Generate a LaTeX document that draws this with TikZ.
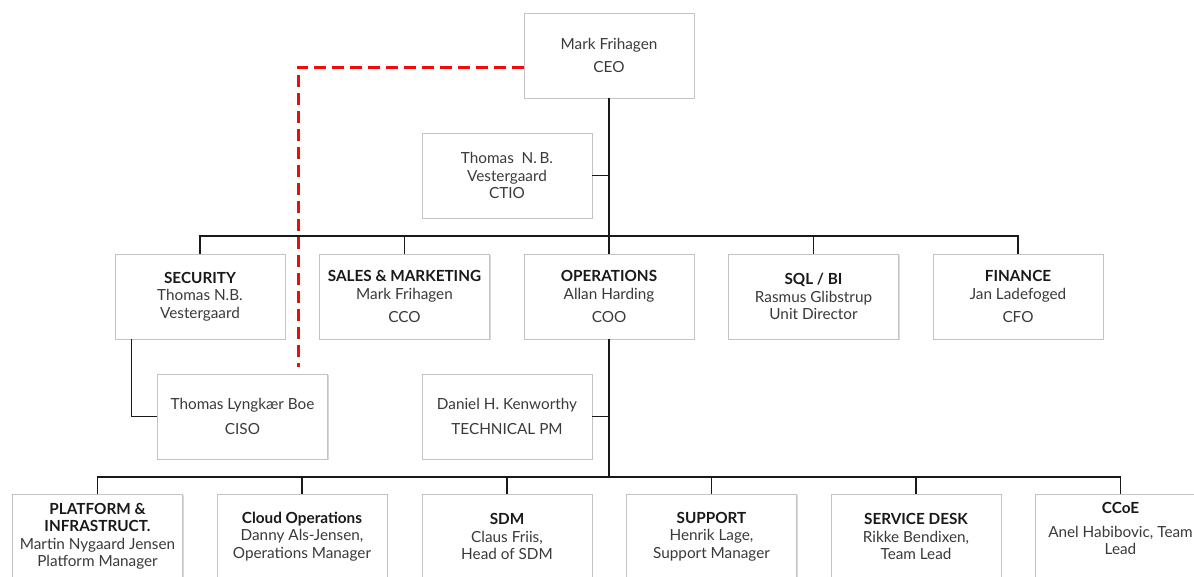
\documentclass[tikz,border=0pt]{standalone}
\usepackage{fontspec}
\setmainfont{Lato}
\usetikzlibrary{calc,shadows}

\definecolor{boxline}{RGB}{195,195,195}
\definecolor{txt}{RGB}{58,58,58}
\definecolor{dashred}{RGB}{240,10,10}
\newcommand{\boxhead}[1]{\textbf{\color{black!90}#1}}

\begin{document}
\begin{tikzpicture}[x=1pt,y=-1pt,
    box/.style={draw=boxline,line width=0.8pt,fill=white,minimum width=170pt,minimum height=85pt,
      align=center,inner sep=2pt,text=txt,font=\fontsize{15.3}{17.5}\selectfont,
      drop shadow={shadow xshift=1pt,shadow yshift=-1.2pt,opacity=0.3}},
    conn/.style={line width=1.6pt,black!90},
    reddash/.style={line width=3pt,dashred,dash pattern=on 12pt off 6pt}]

    \useasboundingbox (0,0) rectangle (1194,576);
    \clip (0,0) rectangle (1194,576);

    % top
    \node [box] (ceo) at (609,55.5) {Mark Frihagen\\[6pt] CEO};
    \node [box] (ctio) at (507,175.5) {Thomas\ \ N.\,B.\\ Vestergaard\\ CTIO};

    % second row
    \node [box] (sec) at (200,296.5) {\boxhead{SECURITY}\\ Thomas N.B.\\ Vestergaard};
    \node [box] (sales) at (404.5,296.5) {\boxhead{SALES \& MARKETING}\\ Mark Frihagen\\[6pt] CCO};
    \node [box] (ops) at (609,296.5) {\boxhead{OPERATIONS}\\ Allan Harding\\[6pt] COO};
    \node [box] (sql) at (813.5,296.5) {\boxhead{SQL / BI}\\ Rasmus Glibstrup\\ Unit Director};
    \node [box] (fin) at (1018,296.5) {\boxhead{FINANCE}\\ Jan Ladefoged\\[6pt] CFO};

    % staff
    \node [box] (ciso) at (242.5,416.5) {Thomas Lyngkær Boe\\[7pt] CISO};
    \node [box] (pm) at (507,416.5) {Daniel H. Kenworthy\\[7pt] TECHNICAL PM};

    % bottom row
    \node [box] (plat) at (97.5,536.5) {\boxhead{PLATFORM \&}\\ \boxhead{INFRASTRUCT.}\\ Martin Nygaard Jensen\\ Platform Manager};
    \node [box] (cloud) at (302,536.5) {\boxhead{Cloud Operations}\\ Danny Als-Jensen,\\ Operations Manager};
    \node [box] (sdm) at (507,536.5) {\boxhead{SDM}\\ Claus Friis,\\ Head of SDM};
    \node [box] (sup) at (711.5,536.5) {\boxhead{SUPPORT}\\ Henrik Lage,\\ Support Manager};
    \node [box] (desk) at (916,536.5) {\boxhead{SERVICE DESK}\\ Rikke Bendixen,\\ Team Lead};
    \node [box] (ccoe) at (1120.5,536.5) {\boxhead{CCoE}\\[6pt] Anel Habibovic, Team\\ Lead\\[-2pt]~};

    \coordinate (bar1) at (609,236);
    \coordinate (bar2) at (609,477);
    \coordinate (dashend) at (298,367);

    % lines
    \draw [conn] (ceo.south) -- (ops.north);
    \draw [conn] (ctio.east) -- (ctio.east -| ceo.south);
    \draw [conn] (sec.north) |- (bar1) -| (fin.north);
    \draw [conn] (sales.north) |- (bar1);
    \draw [conn] (sql.north) |- (bar1);

    \draw [conn] ([xshift=17pt]sec.south west) |- (ciso.west);
    \draw [conn] (pm.east) -- (pm.east -| ops.south);

    \draw [conn] (ops.south) -- (bar2);
    \draw [conn] (plat.north) |- (bar2) -| (ccoe.north);
    \draw [conn] (cloud.north) |- (bar2);
    \draw [conn] (sdm.north) |- (bar2);
    \draw [conn] (sup.north) |- (bar2);
    \draw [conn] (desk.north) |- (bar2);

    \draw [reddash] ([yshift=-11.5pt]ceo.west) -| (dashend); % dotted line
\end{tikzpicture}
\end{document}
